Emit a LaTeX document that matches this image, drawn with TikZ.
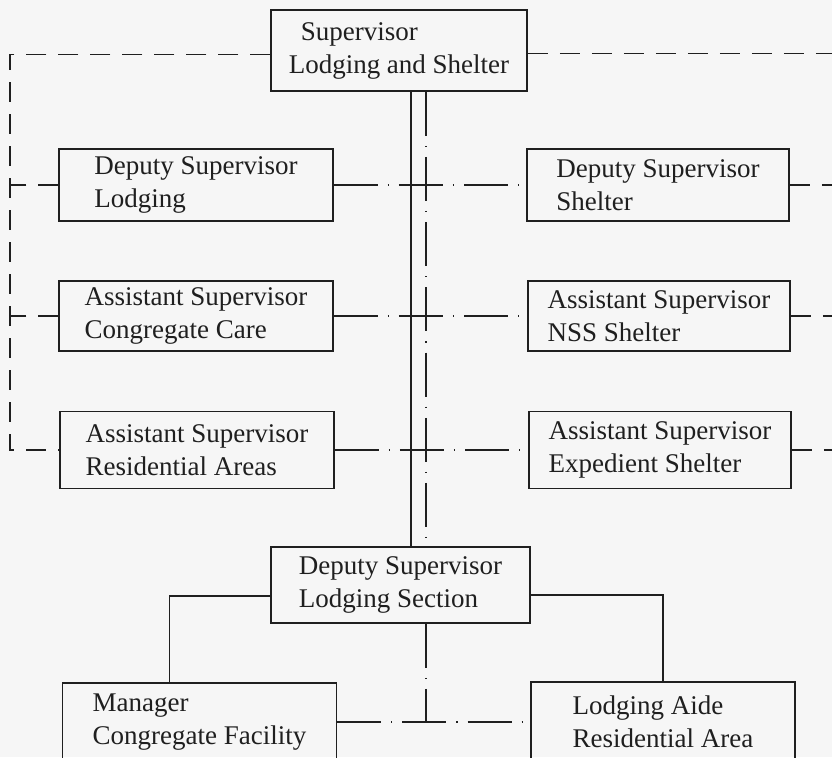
\documentclass[tikz,border=0pt]{standalone}
\usepackage{fontspec}
\setmainfont{Liberation Serif}
\definecolor{paper}{gray}{0.965}
\definecolor{ink}{gray}{0.12}
\begin{document}
\begin{tikzpicture}[x=0.5pt,y=-0.5pt,color=ink,line width=.75pt,
  post/.style={draw,rectangle,align=left,inner sep=0pt,font=\fontsize{13.5}{16.5}\selectfont},
  lpost/.style={post,minimum width=137pt,minimum height=36pt},
  rpost/.style={post,minimum width=131pt,minimum height=36pt},
  dashline/.style={dash pattern=on 10pt off 6pt},
  dotline/.style={dash pattern=on 22pt off 5pt on .6pt off 5pt}]
\fill[paper] (0,0) rectangle (832,757);
\useasboundingbox (0,0) rectangle (832,757);

\node[post,minimum width=128pt,minimum height=40.5pt] (sup) at (399,50.5) {\hspace*{6pt}Supervisor\\Lodging and Shelter};

\node[lpost] (dlod) at (196,185) {Deputy Supervisor\\Lodging};
\node[rpost] (dshe) at (658,185) {Deputy Supervisor\\Shelter};
\node[lpost,minimum height=35pt] (acon) at (196,316) {Assistant Supervisor\\Congregate Care};
\node[rpost,minimum height=35pt] (anss) at (659,316) {Assistant Supervisor\\NSS Shelter};
\node[lpost,minimum height=38.5pt] (ares) at (197,450) {Assistant Supervisor\\Residential Areas};
\node[rpost,minimum height=38.5pt] (aexp) at (660,450) {Assistant Supervisor\\Expedient Shelter};

\node[post,minimum width=129.5pt,minimum height=38pt] (dsec) at (400.5,585) {Deputy Supervisor\\Lodging Section};
\node[lpost,minimum height=39pt] (mgr) at (199.5,722) {Manager\\Congregate Facility};
\node[rpost,minimum width=132pt,minimum height=40pt] (aide) at (663,722) {Lodging Aide\\Residential Area};

\coordinate (lx) at (10,0);
\coordinate (rx) at (840,0);
\coordinate (va) at (411,0);
\coordinate (vb) at (426,0);

\draw[dashline] ([yshift=-2pt]sup.west) -- ([yshift=-2pt]sup.west -| lx) -- (ares.west -| lx) -- (ares.west);
\draw[dashline] (dlod.west) -- (dlod.west -| lx);
\draw[dashline] (acon.west) -- (acon.west -| lx);
\draw[dashline] ([yshift=-1.5pt]sup.east) -- ([yshift=-1.5pt]sup.east -| rx);
\draw[dashline] (dshe.east) -- (dshe.east -| rx);
\draw[dashline] (anss.east) -- (anss.east -| rx);
\draw[dashline] (aexp.east) -- (aexp.east -| rx);

\draw (sup.south -| va) -- (dsec.north -| va);
\draw[dotline] (sup.south -| vb) -- (dsec.north -| vb);
\draw[dotline] (dlod.east) -- (dshe.west);
\draw[dotline] (acon.east) -- (anss.west);
\draw[dotline] (ares.east) -- (aexp.west);

\draw ([yshift=-5.5pt]dsec.west) -| ([xshift=-15pt]mgr.north);
\draw ([yshift=-5pt]dsec.east) -| (aide.north);
\draw[dotline] (dsec.south -| vb) -- (mgr.east -| vb);
\draw[dotline] (mgr.east) -- (aide.west);
\end{tikzpicture}
\end{document}
